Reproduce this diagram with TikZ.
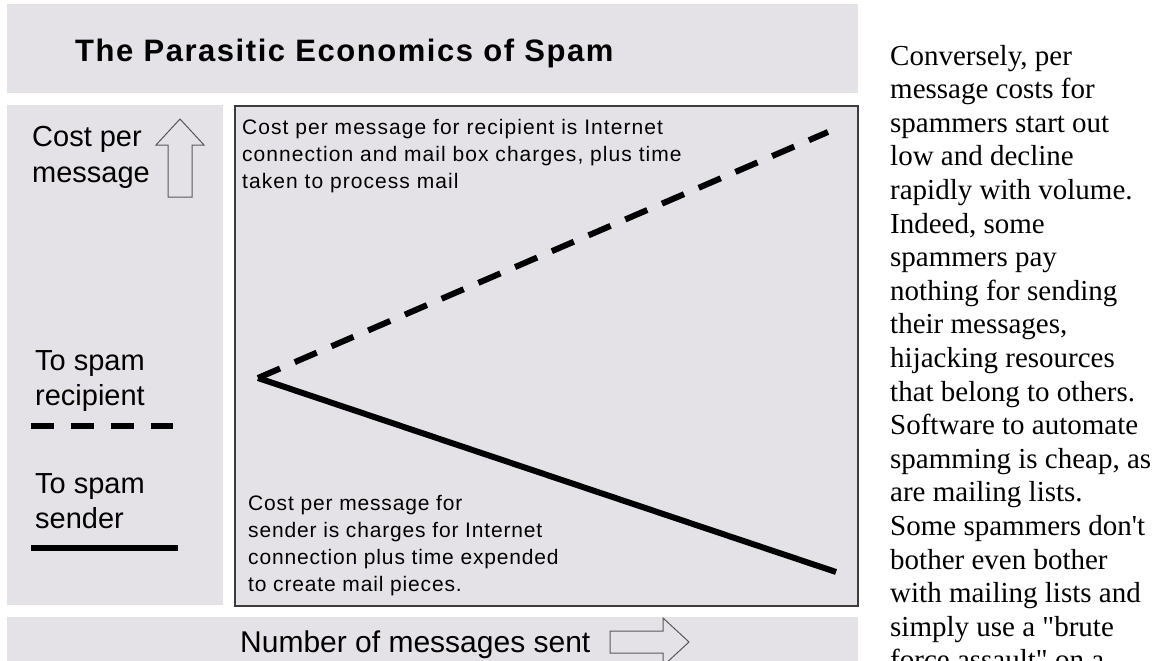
\documentclass[tikz,border=0pt]{standalone}
\usepackage{fontspec}
\setmainfont{Liberation Sans}
\newfontfamily\serifbody{Liberation Serif}
\newfontfamily\boxfont{Liberation Sans}[LetterSpace=5]
\newfontfamily\boxfontb{Liberation Sans}[LetterSpace=4]
\newfontfamily\titlefont{Liberation Sans Bold}[LetterSpace=5]
\definecolor{panel}{RGB}{228,226,230}
\definecolor{edge}{RGB}{60,60,60}
\tikzset{
  panelbox/.style={fill=panel, draw=none},
  bigtext/.style={anchor=base west, inner sep=0pt, align=left, font=\fontsize{29}{35.5}\selectfont},
  boxtext/.style={anchor=base west, inner sep=0pt, align=left, font=\boxfont\fontsize{21}{27}\selectfont},
  boxtextb/.style={anchor=base west, inner sep=0pt, align=left, font=\boxfontb\fontsize{21}{27}\selectfont},
  bodytext/.style={anchor=base west, inner sep=0pt, align=left, font=\serifbody\fontsize{29}{33.6}\selectfont},
  hollow/.style={draw=black!65, line width=1pt, line join=miter},
  thickline/.style={line width=6pt, black},
  graphdash/.style={thickline, dash pattern=on 24pt off 16pt},
  legenddash/.style={thickline, dash pattern=on 23pt off 17pt},
}
\begin{document}
\begin{tikzpicture}[x=1pt,y=-1pt]
\path[use as bounding box] (0,0) rectangle (1165,661);
\clip (0,0) rectangle (1165,661);
\fill[white] (0,0) rectangle (1165,661);
% panels
\path[panelbox] (7,4) rectangle (858,93);
\path[panelbox] (7,105) rectangle (223,605);
\path[panelbox] (7,617) rectangle (858,680);
\draw[fill=panel, draw=edge, line width=1.3pt] (235,106) rectangle (858,606);
% title
\node[anchor=base west, inner sep=0pt, font=\titlefont\fontsize{31}{36}\selectfont] (title) at (75,62) {The Parasitic Economics of Spam};
% left legend (base = last line)
\node[bigtext] (costlbl) at (32,182) {Cost per\\message};
\draw[hollow] (180,119) -- (204,145) -- (192,145) -- (192,197) -- (168,197) -- (168,145) -- (156,145) -- cycle;
\node[bigtext] (rcplbl) at (35,405.5) {To spam\\recipient};
\coordinate (ldA) at (31,426);
\coordinate (ldB) at (173,426);
\draw[legenddash] (ldA) -- (ldB);
\node[bigtext] (sndlbl) at (35,528.5) {To spam\\sender};
\coordinate (lsA) at (31,548);
\coordinate (lsB) at (178,548);
\draw[thickline] (lsA) -- (lsB);
% graph
\node[boxtext] (rcptext) at (242,188) {Cost per message for recipient is Internet\\connection and mail box charges, plus time\\taken to process mail};
\node[boxtextb] (sndtext) at (248,591) {Cost per message for\\sender is charges for Internet\\connection plus time expended\\to create mail pieces.};
\coordinate (apex) at (258,378);
\coordinate (rcpend) at (828,132);
\coordinate (sndend) at (836,572);
\draw[graphdash] (apex) -- (rcpend);
\draw[thickline] (apex) -- (sndend);
% x axis
\node[anchor=base west, inner sep=0pt, font=\fontsize{30}{35}\selectfont] (xlbl) at (240,652) {Number of messages sent};
\draw[hollow] (610,631) -- (663,631) -- (663,618) -- (689,642) -- (663,666) -- (663,653) -- (610,653) -- cycle;
% right column (base = last line)
\node[bodytext] (body) at (890,669.8) {Conversely, per\\message costs for\\spammers start out\\low and decline\\rapidly with volume.\\Indeed, some\\spammers pay\\nothing for sending\\their messages,\\hijacking resources\\that belong to others.\\Software to automate\\spamming is cheap, as\\are mailing lists.\\Some spammers don't\\bother even bother\\with mailing lists and\\simply use a "brute\\force assault" on a};
\end{tikzpicture}
\end{document}
